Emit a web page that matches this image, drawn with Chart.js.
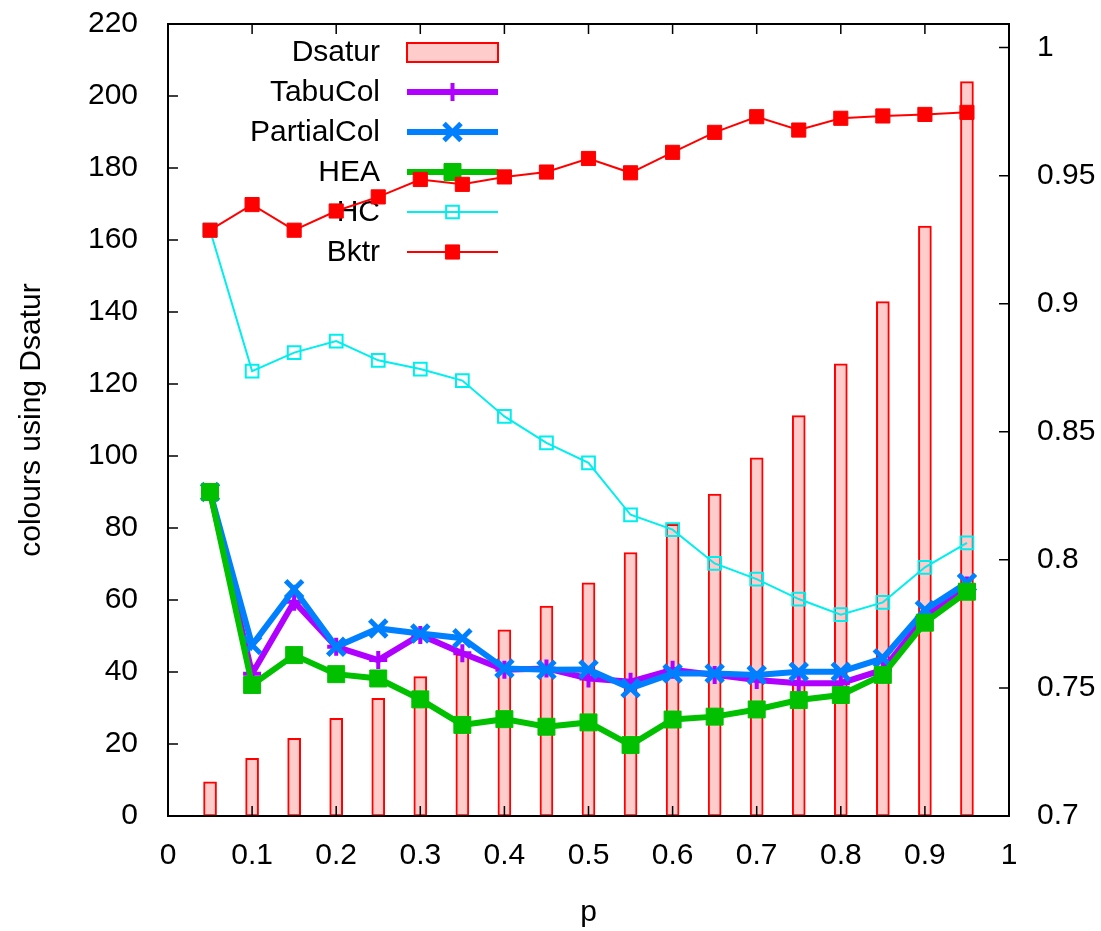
<!DOCTYPE html>
<html>
<head>
<meta charset="utf-8">
<script src="https://cdn.jsdelivr.net/npm/chart.js@4.4.1/dist/chart.umd.min.js"></script>
<style>
  html, body { margin: 0; padding: 0; background: #fff; }
  #wrap { width: 1101px; height: 931px; }
</style>
</head>
<body>
<div id="wrap"><canvas id="c" width="1101" height="931"></canvas></div>
<script>
// ---- data ----
const pValues = [0.05, 0.10, 0.15, 0.20, 0.25, 0.30, 0.35, 0.40, 0.45, 0.50, 0.55, 0.60, 0.65, 0.70, 0.75, 0.80, 0.85, 0.90, 0.95];
const dsatur     = [9.5, 16, 21.6, 27.1, 32.7, 38.7, 45, 51.7, 58.3, 64.8, 73.2, 81, 89.4, 99.5, 111.2, 125.6, 142.9, 163.9, 204];
const tabucol    = [90, 39.5, 59.5, 47, 43.3, 50.3, 45.2, 40.6, 41, 38.2, 37.3, 40.6, 39.2, 37.8, 36.9, 36.9, 40.6, 55.4, 64];
const partialcol = [90, 47.5, 63, 47, 52.1, 50.7, 49.4, 41, 40.6, 40.7, 35.5, 39.6, 39.6, 39.2, 40.1, 40.1, 43.8, 57.2, 64.8];
const hea        = [90, 36.4, 44.7, 39.4, 38.2, 32.4, 25.3, 26.9, 24.8, 26, 19.7, 26.8, 27.6, 29.6, 32.2, 33.6, 39.2, 53.7, 62.3];
const hc         = [0.9287, 0.8737, 0.8809, 0.8854, 0.8779, 0.8745, 0.8700, 0.8560, 0.8457, 0.8379, 0.8176, 0.8118, 0.7986, 0.7925, 0.7847, 0.7786, 0.7834, 0.7971, 0.8066];
const bktr       = [0.9287, 0.9387, 0.9287, 0.9362, 0.9417, 0.9485, 0.9466, 0.9495, 0.9514, 0.9567, 0.9511, 0.9591, 0.9669, 0.9730, 0.9678, 0.9724, 0.9733, 0.9739, 0.9747];
const rightTicks = [0.7, 0.75, 0.8, 0.85, 0.9, 0.95, 1.0];
const seriesNames = ['Dsatur', 'TabuCol', 'PartialCol', 'HEA', 'HC', 'Bktr'];

const pts = arr => arr.map((v, i) => ({ x: pValues[i], y: v }));
const FONT = "'Liberation Sans', Arial, sans-serif";
const FS = 30;
const fmt = v => String(+Number(v).toFixed(2));

const legendPlugin = {
  id: 'gpLegend',
  beforeDatasetsDraw(chart) {
    const ctx = chart.ctx;
    const textRight = 380, x0 = 407, x1 = 498, xm = 452.5;
    ctx.save();
    ctx.font = FS + 'px ' + FONT;
    ctx.textAlign = 'right';
    ctx.textBaseline = 'middle';
    chart.data.datasets.forEach((ds, i) => {
      const y = 52 + i * 40;
      ctx.fillStyle = '#000';
      ctx.fillText(ds.label, textRight, y + 1);
      if (ds.type === 'bar') {
        ctx.fillStyle = ds.backgroundColor;
        ctx.fillRect(x0, y - 9, x1 - x0, 19);
        ctx.strokeStyle = ds.borderColor;
        ctx.lineWidth = 2;
        ctx.strokeRect(x0, y - 9, x1 - x0, 19);
      } else {
        ctx.strokeStyle = ds.borderColor;
        ctx.lineWidth = ds.borderWidth;
        ctx.beginPath();
        ctx.moveTo(x0, y);
        ctx.lineTo(x1, y);
        ctx.stroke();
        ctx.fillStyle = ds.pointBackgroundColor;
        ctx.strokeStyle = ds.pointBorderColor;
        ctx.lineWidth = ds.pointBorderWidth;
        Chart.helpers.drawPoint(ctx, {
          pointStyle: ds.pointStyle, radius: ds.pointRadius, rotation: 0, borderWidth: ds.pointBorderWidth
        }, xm, y);
      }
    });
    ctx.restore();
  }
};

const framePlugin = {
  id: 'gpFrame',
  afterDatasetsDraw(chart) {
    const ctx = chart.ctx;
    const a = chart.chartArea;
    const sx = chart.scales.x, sy = chart.scales.y, sy2 = chart.scales.y2;
    const L = 10;
    ctx.save();
    ctx.strokeStyle = '#000';
    ctx.lineWidth = 1.5;
    ctx.beginPath();
    sx.ticks.forEach(t => {
      const px = sx.getPixelForValue(t.value);
      ctx.moveTo(px, a.bottom); ctx.lineTo(px, a.bottom - L);
      ctx.moveTo(px, a.top); ctx.lineTo(px, a.top + L);
    });
    sy.ticks.forEach(t => {
      const py = sy.getPixelForValue(t.value);
      ctx.moveTo(a.left, py); ctx.lineTo(a.left + L, py);
    });
    sy2.ticks.forEach(t => {
      const py = sy2.getPixelForValue(t.value);
      ctx.moveTo(a.right, py); ctx.lineTo(a.right - L, py);
    });
    ctx.stroke();
    ctx.lineWidth = 2;
    ctx.strokeRect(a.left, a.top, a.right - a.left, a.bottom - a.top);
    ctx.restore();
  }
};

const noPadV = s => { s.paddingTop = 0; s.paddingBottom = 0; };

new Chart(document.getElementById('c'), {
  type: 'line',
  data: {
    datasets: [
      { type: 'bar', label: seriesNames[0], data: pts(dsatur), yAxisID: 'y', order: 5,
        backgroundColor: 'rgb(255,204,204)', borderColor: '#ff0000', borderWidth: 2,
        barThickness: 13, borderSkipped: false },
      { label: seriesNames[1], data: pts(tabucol), yAxisID: 'y', order: 4,
        borderColor: '#b000ff', borderWidth: 6, pointStyle: 'cross', pointRadius: 9,
        pointBorderColor: '#b000ff', pointBackgroundColor: '#b000ff', pointBorderWidth: 4, tension: 0, fill: false },
      { label: seriesNames[2], data: pts(partialcol), yAxisID: 'y', order: 3,
        borderColor: '#0080ff', borderWidth: 6, pointStyle: 'crossRot', pointRadius: 12,
        pointBorderColor: '#0080ff', pointBackgroundColor: '#0080ff', pointBorderWidth: 5, tension: 0, fill: false },
      { label: seriesNames[3], data: pts(hea), yAxisID: 'y', order: 2,
        borderColor: '#00c000', borderWidth: 6, pointStyle: 'rect', pointRadius: 12,
        pointBorderColor: '#00c000', pointBackgroundColor: '#00c000', pointBorderWidth: 1, tension: 0, fill: false },
      { label: seriesNames[4], data: pts(hc), yAxisID: 'y2', order: 1,
        borderColor: '#00eeee', borderWidth: 2, pointStyle: 'rect', pointRadius: 9,
        pointBorderColor: '#00eeee', pointBackgroundColor: 'rgba(0,0,0,0)', pointBorderWidth: 2, tension: 0, fill: false },
      { label: seriesNames[5], data: pts(bktr), yAxisID: 'y2', order: 0,
        borderColor: '#ff0000', borderWidth: 2, pointStyle: 'rect', pointRadius: 10,
        pointBorderColor: '#ff0000', pointBackgroundColor: '#ff0000', pointBorderWidth: 1, tension: 0, fill: false }
    ]
  },
  options: {
    responsive: false,
    devicePixelRatio: 1,
    animation: false,
    layout: { padding: { top: 24, left: 0, right: 0, bottom: 0 } },
    plugins: { legend: { display: false }, tooltip: { enabled: false } },
    scales: {
      x: {
        type: 'linear', position: 'bottom', min: 0, max: 1, offset: false,
        grid: { display: false, drawTicks: false },
        border: { display: false },
        ticks: { stepSize: 0.1, padding: 22, maxRotation: 0, autoSkip: false, color: '#000',
                 font: { family: FONT, size: FS }, callback: v => fmt(v) },
        title: { display: true, text: 'p', color: '#000', font: { family: FONT, size: FS }, padding: { top: 0, bottom: 0 } },
        afterFit: s => { s.height = 115; s.paddingLeft = 0; s.paddingRight = 0; }
      },
      y: {
        type: 'linear', position: 'left', min: 0, max: 220,
        grid: { display: false, drawTicks: false },
        border: { display: false },
        ticks: { stepSize: 20, padding: 30, color: '#000', font: { family: FONT, size: FS } },
        title: { display: true, text: 'colours using Dsatur', color: '#000', font: { family: FONT, size: FS }, padding: { top: 14, bottom: 0 } },
        afterFit: s => { s.width = 168; noPadV(s); }
      },
      y2: {
        type: 'linear', position: 'right', min: 0.7, max: 1.0092,
        grid: { display: false, drawTicks: false },
        border: { display: false },
        ticks: { padding: 28, color: '#000', font: { family: FONT, size: FS }, callback: v => fmt(v) },
        afterBuildTicks: s => { s.ticks = rightTicks.map(v => ({ value: v })); },
        afterFit: s => { s.width = 92; noPadV(s); }
      }
    }
  },
  plugins: [legendPlugin, framePlugin]
});
</script>
</body>
</html>
